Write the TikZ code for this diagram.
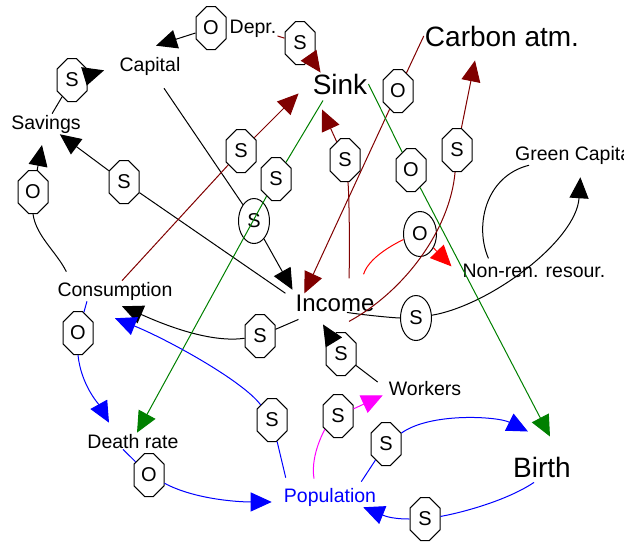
\documentclass[tikz,border=0pt]{standalone}
\usepackage{fontspec}
\setmainfont{Liberation Sans}
\usetikzlibrary{shapes.misc,shapes.geometric,arrows.meta}
\definecolor{brn}{RGB}{128,0,0}
\definecolor{grn}{RGB}{0,128,0}
\definecolor{blu}{RGB}{0,0,255}
\definecolor{mag}{RGB}{255,0,255}
\tikzset{
  lbl/.style={font=\fontsize{19.5}{23}\selectfont, inner sep=1pt, anchor=base},
  big/.style={lbl, font=\fontsize{28}{32}\selectfont},
  oct/.style={chamfered rectangle, chamfered rectangle xsep=8.5pt, draw, fill=white,
    minimum width=30pt, minimum height=43pt, inner sep=0pt,
    font=\fontsize{20}{22}\selectfont, line width=1pt},
  ell/.style={ellipse, draw, fill=white, minimum width=31pt, minimum height=45pt,
    inner sep=0pt, font=\fontsize{20}{22}\selectfont, line width=1pt},
  link/.style={line width=1pt},
  arr/.style={link, -{Triangle[length=21pt,width=19pt]}},
}
\begin{document}
\begin{tikzpicture}[x=1pt,y=-1pt]
\useasboundingbox (0,0) rectangle (624,542);
\clip (0,0) rectangle (624,542);
% labels
\node[lbl] (Capital) at (150,71) {Capital};
\node[lbl] (Depr) at (253,33) {Depr.};
\node[lbl] (Savings) at (46,129) {Savings};
\node[big] (Sink) at (340,94) {Sink};
\node[big] (Carbon) at (502,46) {Carbon atm.};
\node[lbl, anchor=base west] (GreenCap) at (514,160) {Green Capital};
\node[lbl] (Consumption) at (115,296) {Consumption};
\node[lbl, font=\fontsize{24}{28}\selectfont] (Income) at (335,311) {Income};
\node[lbl] (NonRen) at (534,277) {Non-ren. resour.};
\node[lbl] (Workers) at (425,395) {Workers};
\node[lbl] (DeathRate) at (133,448) {Death rate};
\node[lbl, text=blu] (Population) at (330,502) {Population};
\node[big] (Birth) at (542,477) {Birth};
% polarity markers
\node[oct] (O1) at (211,28) {O};
\node[oct] (S2) at (300,43) {S};
\node[oct] (S3) at (72,80) {S};
\node[oct] (O4) at (33,192) {O};
\node[oct] (S5) at (124,182) {S};
\node[oct] (S6) at (241,151) {S};
\node[oct] (S7) at (276,179) {S};
\node[ell] (E8) at (254,221) {S};
\node[oct] (S9) at (345,160) {S};
\node[oct] (O10) at (398,91) {O};
\node[oct] (S11) at (457,150) {S};
\node[oct] (O12) at (411,170) {O};
\node[ell, minimum width=33pt] (E13) at (420,234) {O};
\node[ell] (E14) at (416,318) {S};
\node[oct] (S15) at (260,336) {S};
\node[oct] (S16) at (341,354) {S};
\node[oct] (O17) at (78,333) {O};
\node[oct] (O18) at (149,475) {O};
\node[oct] (S19) at (272,420) {S};
\node[oct] (S20) at (338,416) {S};
\node[oct] (S21) at (386,444) {S};
\node[oct] (S22) at (425,519) {S};
% black links
\draw[arr] (O1) -- ([xshift=6pt,yshift=10pt]Capital.north);
\draw[link] (Savings) -- (S3);
\draw[arr, shorten >=15pt] (S3) -- (Capital.west);
\draw[link] ([xshift=10pt,yshift=9pt]Consumption.north west) .. controls +(-10,-20) and +(3,22) .. (O4.south);
\draw[arr, shorten >=11pt] (O4) -- (Savings);
\draw[link] ([xshift=-9pt]Income.north west) -- (S5);
\draw[arr] (S5) -- (Savings);
\draw[link] ([xshift=14pt,yshift=-12pt]Capital.south) -- (E8);
\draw[arr, shorten >=4pt] (E8) -- (Income.north west);
\draw[link] ([xshift=4pt,yshift=-7pt]Income.south west) -- (S15);
\draw[arr] (S15) .. controls +(-55,8) and +(28,12) .. ([xshift=7pt,yshift=-5pt]Consumption.south);
\draw[link] ([xshift=-10pt,yshift=6pt]Workers.west) -- (S16);
\draw[arr] (S16) -- ([xshift=-12pt,yshift=-12pt]Income.south);
\draw[link] ([xshift=12pt]Income.south) .. controls +(20,3) and +(-20,0) .. (E14);
\draw[arr] (E14) .. controls +(75,-13) and +(-4,63) .. ([xshift=5pt,yshift=-12pt]GreenCap.south);
\draw[link] ([xshift=27pt,yshift=4pt]NonRen.north west) .. controls +(-14,-32) and +(-44,11) .. ([xshift=15pt]GreenCap.south west);
% brown links
\draw[link, brn] (Depr) -- (S2);
\draw[arr, brn] (S2) -- ([xshift=9pt]Sink.north west);
\draw[link, brn] ([xshift=7pt]Consumption.north) -- (S6);
\draw[arr, brn] (S6) -- ([xshift=-13pt,yshift=2pt]Sink.south west);
\draw[link, brn] (Carbon.west) -- (O10);
\draw[arr, brn] (O10) -- ([xshift=10pt]Income.north west);
\draw[link, brn] ([xshift=14pt,yshift=15pt]Income.north) .. controls +(1,-30) and +(4,30) .. (S9);
\draw[arr, brn] (S9) -- ([xshift=-18pt,yshift=-14pt]Sink.south);
\draw[link, brn] ([xshift=14pt,yshift=-9pt]Income.south) .. controls +(55,-30) and +(-7,80) .. (S11);
\draw[arr, brn] (S11) -- ([xshift=-27pt,yshift=-13pt]Carbon.south);
% red link
\draw[link, red] ([xshift=-12pt,yshift=19pt]Income.north east) .. controls +(6,-20) and +(-15,5) .. (E13);
\draw[arr, red] (E13) -- ([xshift=-10pt,yshift=-4pt]NonRen.north west);
% green links
\draw[link, grn] ([xshift=-17pt,yshift=-5pt]Sink.south) -- (S7);
\draw[arr, grn] (S7) -- ([xshift=4pt]DeathRate.north);
\draw[link, grn] (Sink.east) -- (O12);
\draw[arr, grn] (O12) -- ([xshift=8pt,yshift=19pt]Birth.north);
% magenta link
\draw[link, mag] ([xshift=-16pt,yshift=8pt]Population.north) .. controls +(-4,-25) and +(-12,12) .. (S20);
\draw[arr, mag] (S20) -- ([xshift=-5pt,yshift=1pt]Workers.south west);
% blue links
\draw[link, blu] ([xshift=-28pt]Consumption.south) -- (O17);
\draw[arr, blu] (O17.south) .. controls +(3,30) and +(-10,-18) .. ([xshift=-24pt,yshift=10pt]DeathRate.north);
\draw[link, blu] ([xshift=-10pt]DeathRate.south) -- (O18);
\draw[arr, blu] (O18) .. controls +(45,24) and +(-35,0) .. ([xshift=-11pt,yshift=-5pt]Population.west);
\draw[link, blu] ([xshift=3pt,yshift=9pt]Population.north west) -- (S19);
\draw[arr, blu] (S19) .. controls +(-30,-40) and +(50,20) .. ([yshift=-17pt]Consumption.south);
\draw[link, blu] ([xshift=-16pt,yshift=5pt]Population.north east) -- (S21);
\draw[arr, blu] (S21) .. controls +(45,-32) and +(-30,-15) .. ([xshift=-14pt,yshift=24pt]Birth.north);
\draw[link, blu] ([xshift=-8pt,yshift=-4pt]Birth.south) .. controls +(-30,20) and +(30,-5) .. (S22);
\draw[arr, blu] (S22) .. controls +(-35,0) and +(20,8) .. ([xshift=-14pt]Population.south east);
\end{tikzpicture}
\end{document}
